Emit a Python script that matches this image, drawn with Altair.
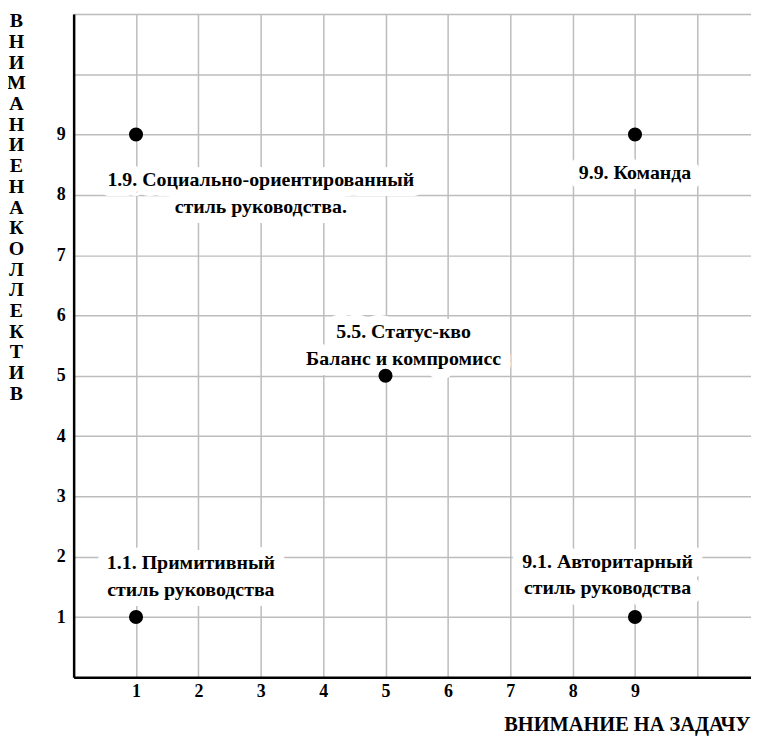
import altair as alt
import pandas as pd

# Points of the managerial grid
point_x = [1, 9, 5, 1, 9]
point_y = [9, 9, 5, 1, 1]

# Annotations (text, anchor position in data units)
label_text = [
    "1.9. Социально-ориентированный\nстиль руководства.",
    "9.9. Команда",
    "5.5. Статус-кво\nБаланс и компромисс",
    "1.1. Примитивный\nстиль руководства",
    "9.1. Авторитарный\nстиль руководства",
]
label_x = [3.0, 9.0, 5.29, 1.88, 8.56]
label_y = [8.25, 8.36, 5.73, 1.89, 1.92]

tick_values = list(range(0, 12))
y_title_letters = list("ВНИМАНИЕНАКОЛЛЕКТИВ")
x_title = "ВНИМАНИЕ НА ЗАДАЧУ"

FONT = "Liberation Serif"

points = pd.DataFrame({"x": point_x, "y": point_y})
labels = pd.DataFrame({"text": label_text, "x": label_x, "y": label_y})

xscale = alt.Scale(domain=[0, 10.86], nice=False, zero=False)
yscale = alt.Scale(domain=[0, 11], nice=False, zero=False)

xaxis = alt.Axis(
    values=tick_values, format="d",
    labelExpr="datum.value >= 1 && datum.value <= 9 ? datum.label : ''",
    ticks=False, tickSize=0, grid=True, gridColor="#bdbdbd", gridWidth=1.5,
    domainColor="black", domainWidth=2.5,
    labelFont=FONT, labelFontSize=18, labelFontWeight="bold", labelColor="black",
    labelPadding=5, labelFlush=False,
    title=x_title, titleFont=FONT, titleFontSize=20.5, titleFontWeight="bold",
    titleColor="black", titleAlign="right", titleAnchor="end",
    titleX=680, titleY=53, titleBaseline="alphabetic",
)
yaxis = alt.Axis(
    values=tick_values, format="d",
    labelExpr="datum.value >= 1 && datum.value <= 9 ? datum.label : ''",
    ticks=False, tickSize=0, grid=True, gridColor="#bdbdbd", gridWidth=1.5,
    domainColor="black", domainWidth=2.5,
    labelFont=FONT, labelFontSize=18, labelFontWeight="bold", labelColor="black",
    labelPadding=13, labelAlign="center", labelFlush=False,
    title=y_title_letters, titleFont=FONT, titleFontSize=20, titleFontWeight="bold",
    titleColor="black", titleAngle=0, titleAlign="center", titleBaseline="top",
    titleX=-58, titleY=-3, titleLineHeight=20.8,
)

halo = alt.Chart(labels).mark_text(
    font=FONT, fontSize=20, fontWeight="bold", align="center", baseline="middle",
    lineBreak="\n", lineHeight=27, stroke="white", strokeWidth=20,
    strokeJoin="round", fill="white",
).encode(
    x=alt.X("x:Q", scale=xscale, axis=xaxis),
    y=alt.Y("y:Q", scale=yscale, axis=yaxis),
    text="text:N",
)

text = alt.Chart(labels).mark_text(
    font=FONT, fontSize=20, fontWeight="bold", align="center", baseline="middle",
    lineBreak="\n", lineHeight=27, color="black",
).encode(
    x=alt.X("x:Q", scale=xscale),
    y=alt.Y("y:Q", scale=yscale),
    text="text:N",
)

pts = alt.Chart(points).mark_point(
    filled=True, color="black", size=200, opacity=1, shape="circle"
).encode(
    x=alt.X("x:Q", scale=xscale),
    y=alt.Y("y:Q", scale=yscale),
)

chart = alt.layer(halo, text, pts).properties(
    width=681, height=667,
    autosize=alt.AutoSizeParams(type="none"),
    padding={"left": 66, "top": 4, "right": 0, "bottom": 57},
).configure_view(stroke=None).configure(background="white")

chart.save("out.html", embed_options={"renderer": "svg", "actions": False})
